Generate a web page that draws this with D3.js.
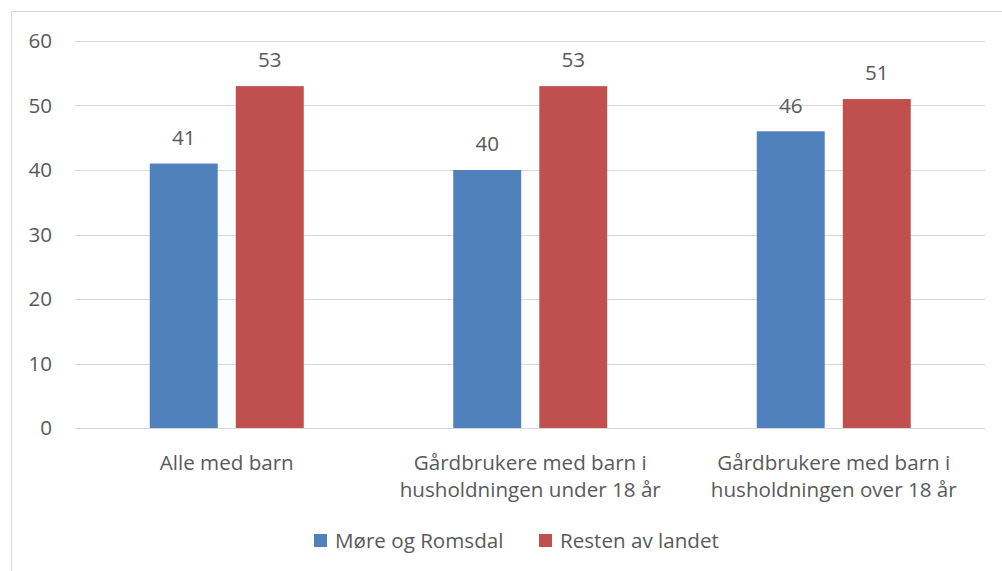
<!DOCTYPE html>
<html>
<head>
<meta charset="utf-8">
<script src="https://cdn.jsdelivr.net/npm/d3@7"></script>
<style>
  body { margin: 0; background: #fff; }
  text { font-family: "Open Sans", Lato, sans-serif; fill: #595959; }
</style>
</head>
<body>
<div id="chart"></div>
<script>
// chart values
var categories = [
  ["Alle med barn"],
  ["Gårdbrukere med barn i", "husholdningen under 18 år"],
  ["Gårdbrukere med barn i", "husholdningen over 18 år"]
];
var seriesNames = ["Møre og Romsdal", "Resten av landet"];
var moreRomsdal = [41, 40, 46];
var restenAvLandet = [53, 53, 51];
var yTicks = [0, 10, 20, 30, 40, 50, 60];
var colors = ["#4f81bd", "#c0504d"];

var svgWidth = 1002;
var svgHeight = 571;
var fontSize = "20.6px";

var margin = { top: 41, left: 75, right: 16, bottom: 143 };
var width = 985.5 - margin.left;
var height = 428 - margin.top;

var svg = d3.select("#chart")
  .append("svg")
  .attr("width", svgWidth)
  .attr("height", svgHeight);

// outer border
svg.append("rect")
  .attr("x", 11.5)
  .attr("y", 11.5)
  .attr("width", 1010)
  .attr("height", 600)
  .attr("fill", "none")
  .attr("stroke", "#d9d9d9")
  .attr("stroke-width", 1);

var chartGroup = svg.append("g")
  .attr("transform", `translate(${margin.left}, ${margin.top})`);

var catIdx = categories.map((d, i) => i);

var x0 = d3.scaleBand()
  .domain(catIdx)
  .range([0, width])
  .paddingInner(0.4926)
  .paddingOuter(0.2463);

var x1 = d3.scaleBand()
  .domain([0, 1])
  .range([0, x0.bandwidth()])
  .paddingInner(0.21);

var y = d3.scaleLinear()
  .domain([0, 60])
  .range([height, 0]);

// gridlines
chartGroup.selectAll("line.grid")
  .data(yTicks)
  .enter()
  .append("line")
  .attr("class", "grid")
  .attr("x1", 0)
  .attr("x2", width)
  .attr("y1", d => Math.round(y(d)) + 0.5)
  .attr("y2", d => Math.round(y(d)) + 0.5)
  .attr("stroke", "#d9d9d9")
  .attr("stroke-width", 1.2);

// y tick labels
chartGroup.selectAll("text.ytick")
  .data(yTicks)
  .enter()
  .append("text")
  .attr("class", "ytick")
  .attr("x", -23)
  .attr("y", d => y(d))
  .attr("dy", "0.35em")
  .attr("text-anchor", "end")
  .attr("font-size", fontSize)
  .text(d => d);

var data = catIdx.map(i => ({ cat: i, values: [moreRomsdal[i], restenAvLandet[i]] }));

var groups = chartGroup.selectAll("g.cat")
  .data(data)
  .enter()
  .append("g")
  .attr("class", "cat")
  .attr("transform", d => `translate(${x0(d.cat)}, 0)`);

groups.selectAll("rect")
  .data(d => d.values.map((v, s) => ({ s: s, v: v })))
  .enter()
  .append("rect")
  .attr("x", d => x1(d.s))
  .attr("y", d => y(d.v))
  .attr("width", x1.bandwidth())
  .attr("height", d => height - y(d.v))
  .attr("fill", d => colors[d.s]);

groups.selectAll("text.val")
  .data(d => d.values.map((v, s) => ({ s: s, v: v })))
  .enter()
  .append("text")
  .attr("class", "val")
  .attr("x", d => x1(d.s) + x1.bandwidth() / 2)
  .attr("y", d => y(d.v) - 26)
  .attr("dy", "0.35em")
  .attr("text-anchor", "middle")
  .attr("font-size", fontSize)
  .text(d => d.v);

// category labels
var catLabels = chartGroup.selectAll("text.cat")
  .data(categories)
  .enter()
  .append("text")
  .attr("class", "cat")
  .attr("text-anchor", "middle")
  .attr("font-size", fontSize)
  .attr("transform", (d, i) => `translate(${x0(i) + x0.bandwidth() / 2}, ${height + 35})`);

catLabels.selectAll("tspan")
  .data(d => d)
  .enter()
  .append("tspan")
  .attr("x", 0)
  .attr("y", (d, i) => i * 27)
  .attr("dy", "0.35em")
  .text(d => d);

// legend
var legend = svg.append("g")
  .attr("transform", "translate(314, 534)");

var legendX = [0, 225];
seriesNames.forEach(function(name, i) {
  legend.append("rect")
    .attr("x", legendX[i])
    .attr("y", 0)
    .attr("width", 13)
    .attr("height", 13)
    .attr("fill", colors[i]);
  legend.append("text")
    .attr("x", legendX[i] + 21)
    .attr("y", 7)
    .attr("dy", "0.35em")
    .attr("font-size", fontSize)
    .text(name);
});
</script>
</body>
</html>
